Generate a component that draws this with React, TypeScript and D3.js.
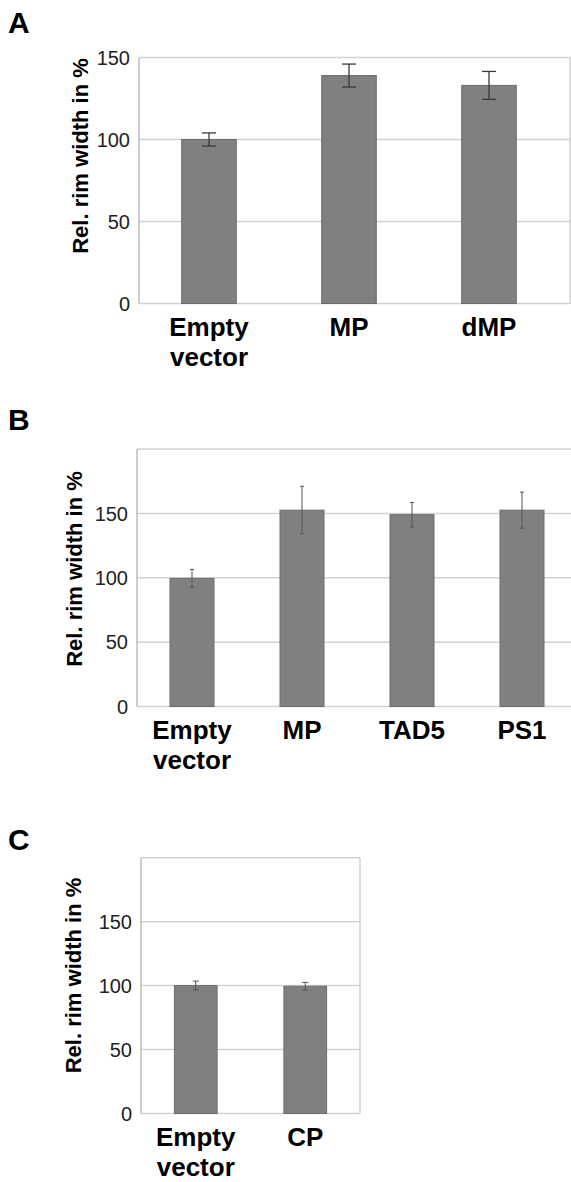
import React from "react";
import * as d3 from "d3";

// panel A
const categoriesA = ["Empty vector", "MP", "dMP"];
const valuesA = [100, 139, 133];
const errorsA = [4, 7, 8.5];

// panel B
const categoriesB = ["Empty vector", "MP", "TAD5", "PS1"];
const valuesB = [99.5, 152.5, 149, 152.5];
const errorsB = [7, 18.5, 9.5, 14];

// panel C
const categoriesC = ["Empty vector", "CP"];
const valuesC = [100, 99.5];
const errorsC = [3.5, 3];

const yTicks = [0, 50, 100, 150];
const yTitle = "Rel. rim width in %";

const FONT = "'Liberation Sans', Arial, Helvetica, sans-serif";
const GRID = "#d2d2d2";

function Panel({
  letter, letterY, categories, values, errors, yMax,
  left, top, bottom, bandEnd, frameRight, showRight, showTop,
  barFrac, cap, errColor, errWidth, titleX, titleY,
}) {
  const x = d3.scaleBand()
    .domain(categories)
    .range([left, bandEnd])
    .paddingInner(1 - barFrac)
    .paddingOuter((1 - barFrac) / 2);

  const y = d3.scaleLinear()
    .domain([0, yMax])
    .range([bottom, top]);

  return (
    <g>
      <text x={8} y={letterY} fontFamily={FONT} fontWeight="bold" fontSize={30} fill="#000">{letter}</text>

      {yTicks.map(t => (
        <line key={"g" + t} x1={left} x2={frameRight} y1={y(t)} y2={y(t)} stroke={GRID} strokeWidth={1.5} />
      ))}
      {showTop && <line x1={left} x2={frameRight} y1={y(yMax)} y2={y(yMax)} stroke={GRID} strokeWidth={1.5} />}
      <line x1={left} x2={left} y1={y(yMax)} y2={y(0)} stroke="#bdbdbd" strokeWidth={1.5} />
      {showRight && <line x1={frameRight} x2={frameRight} y1={y(yMax)} y2={y(0)} stroke={GRID} strokeWidth={1.5} />}

      {yTicks.map(t => (
        <text key={"t" + t} x={left - 9} y={y(t)} dy="0.36em" textAnchor="end"
          fontFamily={FONT} fontSize={20} fill="#222">{t}</text>
      ))}

      {categories.map((c, i) => (
        <rect key={"b" + c} x={x(c)} y={y(values[i])} width={x.bandwidth()} height={y(0) - y(values[i])}
          fill="#808080" stroke="#6c6c6c" strokeWidth={1} />
      ))}

      {categories.map((c, i) => {
        const cx = x(c) + x.bandwidth() / 2;
        const hi = y(values[i] + errors[i]);
        const lo = y(values[i] - errors[i]);
        return (
          <g key={"e" + c} stroke={errColor} strokeWidth={errWidth}>
            <line x1={cx} x2={cx} y1={hi} y2={lo} />
            <line x1={cx - cap / 2} x2={cx + cap / 2} y1={hi} y2={hi} />
            <line x1={cx - cap / 2} x2={cx + cap / 2} y1={lo} y2={lo} />
          </g>
        );
      })}

      {categories.map(c => (
        <text key={"c" + c} x={x(c) + x.bandwidth() / 2} y={y(0) + 32} textAnchor="middle"
          fontFamily={FONT} fontWeight="bold" fontSize={26} fill="#000">
          {c.split(" ").map((w, k) => (
            <tspan key={k} x={x(c) + x.bandwidth() / 2} dy={k === 0 ? 0 : 30}>{w}</tspan>
          ))}
        </text>
      ))}

      <text transform={`translate(${titleX},${titleY}) rotate(-90)`} textAnchor="middle"
        fontFamily={FONT} fontWeight="bold" fontSize={22} fill="#000">{yTitle}</text>
    </g>
  );
}

export default function App() {
  return (
    <svg width={571} height={1182} style={{ position: "absolute", left: 0, top: 0, background: "#fff" }}>
      <Panel letter="A" letterY={33} categories={categoriesA} values={valuesA} errors={errorsA} yMax={150}
        left={139} top={57.5} bottom={303.5} bandEnd={559} frameRight={570} showRight={true} showTop={false}
        barFrac={0.39} cap={14} errColor="#3a3a3a" errWidth={1.3} titleX={88} titleY={156} />
      <Panel letter="B" letterY={430} categories={categoriesB} values={valuesB} errors={errorsB} yMax={200}
        left={137} top={449} bottom={706.5} bandEnd={577} frameRight={580} showRight={false} showTop={true}
        barFrac={0.40} cap={4} errColor="#555" errWidth={1} titleX={81.5} titleY={569} />
      <Panel letter="C" letterY={850} categories={categoriesC} values={valuesC} errors={errorsC} yMax={200}
        left={141} top={857.7} bottom={1113.5} bandEnd={360} frameRight={360} showRight={true} showTop={true}
        barFrac={0.39} cap={6} errColor="#555" errWidth={1} titleX={81} titleY={975.5} />
    </svg>
  );
}
